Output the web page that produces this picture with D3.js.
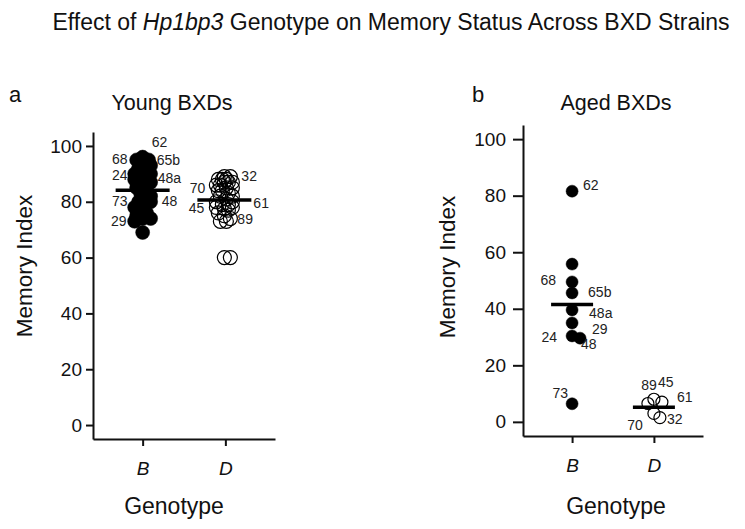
<!DOCTYPE html>
<html><head><meta charset="utf-8">
<script src="https://cdn.jsdelivr.net/npm/d3@7"></script>
<style>
html,body{margin:0;padding:0;background:#fff;}
svg text{font-family:"Liberation Sans",Arial,sans-serif;}
</style></head>
<body>
<svg id="chart" width="745" height="529"></svg>
<script>
// ---------- DATA ----------
const genotypes = ["B", "D"];
const yTicks = [0, 20, 40, 60, 80, 100];

// Young BXDs, B genotype (first values are the labelled strains)
const youngBStrains = ["62", "68", "65b", "24", "48a", "73", "48", "29"];
const youngBValues = [96, 95, 94, 90, 89, 80, 80, 74,
  95, 93, 92, 91, 90, 89, 88, 87, 86, 85, 84, 83, 82, 81, 79, 78, 77, 76, 75, 74, 73, 69];

// Young BXDs, D genotype
const youngDStrains = ["32", "70", "45", "61", "89"];
const youngDValues = [89, 84, 77.5, 79, 73,
  89, 88, 88, 88, 87, 87, 87, 86, 86, 85, 85, 84, 83, 82, 82, 81, 80, 80, 79, 78, 78, 77, 76, 75, 74, 73, 60, 60];

// Aged BXDs, B genotype
const agedBStrains = ["62", "68", "65b", "48a", "29", "24", "48", "73"];
const agedBValues = [81.6, 49.5, 45.6, 39.6, 35, 30.4, 29.6, 6.4, 55.8];

// Aged BXDs, D genotype
const agedDStrains = ["89", "45", "61", "70", "32"];
const agedDValues = [6.5, 8, 7, 3, 1.5];

// ---------- LAYOUT (code, not data) ----------
const svg = d3.select("#chart");
const FONT = '"Liberation Sans",Arial,sans-serif';

svg.append("text").attr("x", 391).attr("y", 30).attr("text-anchor", "middle")
  .attr("font-size", 23).attr("fill", "#111")
  .call(t => {
    t.append("tspan").text("Effect of ");
    t.append("tspan").attr("font-style", "italic").text("Hp1bp3");
    t.append("tspan").text(" Genotype on Memory Status Across BXD Strains");
  });

// label layout: side (l = right-aligned, r = left-aligned), dx from group centre, dy from point y
const labelLayout = {
  young: {
    B: {"62": ["r", 9, -10], "68": ["l", -15, 4], "65b": ["r", 14, 2], "24": ["l", -15, 6],
        "48a": ["r", 15, 6], "73": ["l", -15, 4], "48": ["r", 19, 4], "29": ["l", -16, 7]},
    D: {"32": ["r", 17, 4], "70": ["l", -19, 2], "45": ["l", -20, 4], "61": ["r", 29, 3], "89": ["r", 13, 3]}
  },
  aged: {
    B: {"62": ["r", 11, -1], "68": ["l", -16, 3], "65b": ["r", 16, 4], "48a": ["r", 17, 8],
        "29": ["r", 20, 11], "24": ["l", -15, 6], "48": ["r", 9, 11], "73": ["l", -4, -6]},
    D: {"89": ["l", 3, -13], "45": ["r", 4, -12], "61": ["r", 23, 0], "70": ["l", -11, 17], "32": ["r", 13, 6]}
  }
};

function dodge(values, y, r, maxOff) {
  const idx = values.map((v, i) => i).sort((a, b) => values[b] - values[a]);
  const placed = [];
  const off = new Array(values.length).fill(0);
  const cands = [0];
  for (let k = 2; k <= maxOff; k += 2) { cands.push(k, -k); }
  idx.forEach(i => {
    const py = y(values[i]);
    let best = 0, bestD = -1;
    for (const c of cands) {
      let md = Infinity;
      placed.forEach(p => { md = Math.min(md, Math.hypot(p[0] - c, p[1] - py)); });
      if (md >= r) { best = c; break; }
      if (md > bestD) { bestD = md; best = c; }
    }
    off[i] = best;
    placed.push([best, py]);
  });
  return off;
}

function panel(cfg) {
  const g = svg.append("g");
  const y = d3.scaleLinear().domain([-5, 105]).range([cfg.bottom, cfg.top]);
  const x = d3.scalePoint().domain(genotypes).range([cfg.left, cfg.right]).padding(0.6);

  const ya = g.append("g").attr("transform", `translate(${cfg.left},0)`)
    .call(d3.axisLeft(y).tickValues(yTicks).tickSize(cfg.tick).tickSizeOuter(0).tickPadding(cfg.tickPad));
  const xa = g.append("g").attr("transform", `translate(0,${cfg.bottom})`)
    .call(d3.axisBottom(x).tickSize(7).tickSizeOuter(0).tickPadding(16));
  [ya, xa].forEach(a => {
    a.select(".domain").attr("stroke", "#111").attr("stroke-width", 2);
    a.selectAll(".tick line").attr("stroke", "#111").attr("stroke-width", 2);
    a.selectAll(".tick text").attr("fill", "#111").attr("font-family", FONT);
  });
  ya.selectAll(".tick text").attr("font-size", 19);
  xa.selectAll(".tick text").attr("font-size", 19).attr("font-style", "italic");

  // titles
  svg.append("text").attr("x", cfg.letterX).attr("y", 102).attr("font-size", 22).attr("fill", "#111").text(cfg.letter);
  svg.append("text").attr("x", cfg.titleX).attr("y", 110).attr("text-anchor", "middle")
    .attr("font-size", 21.5).attr("fill", "#111").text(cfg.title);
  svg.append("text").attr("transform", `translate(${cfg.yLabX},${cfg.yLabY}) rotate(-90)`)
    .attr("text-anchor", "middle").attr("font-size", 22.5).attr("fill", "#111").text("Memory Index");
  svg.append("text").attr("x", cfg.genoX).attr("y", 514).attr("text-anchor", "middle")
    .attr("font-size", 23).attr("fill", "#111").text("Genotype");

  cfg.groups.forEach(grp => {
    const cx = x(grp.geno) + (grp.shift || 0);
    const offs = dodge(grp.values, y, cfg.minDist, cfg.maxOff);
    g.append("g").selectAll("circle").data(grp.values).join("circle")
      .attr("cx", (d, i) => cx + offs[i])
      .attr("cy", d => y(d))
      .attr("r", cfg.r)
      .attr("fill", grp.filled ? "#000" : "none")
      .attr("stroke", "#000")
      .attr("stroke-width", grp.filled ? 0.5 : 1.2);
    const m = d3.mean(grp.values);
    g.append("line").attr("x1", cx - cfg.meanW / 2).attr("x2", cx + cfg.meanW / 2)
      .attr("y1", y(m)).attr("y2", y(m)).attr("stroke", "#000").attr("stroke-width", 3.5);
    const lay = labelLayout[cfg.key][grp.geno];
    grp.strains.forEach((s, i) => {
      const L = lay[s];
      g.append("text")
        .attr("x", cx + L[1]).attr("y", y(grp.values[i]) + L[2])
        .attr("text-anchor", L[0] === "l" ? "end" : "start")
        .attr("font-size", 14).attr("fill", "#222").text(s);
    });
  });
}

panel({
  key: "young", left: 93, right: 275, top: 132, bottom: 439, r: 7, minDist: 6, maxOff: 8, meanW: 54,
  tick: 7, tickPad: 4,
  letter: "a", letterX: 9, title: "Young BXDs", titleX: 172, yLabX: 32, yLabY: 266, genoX: 174,
  groups: [
    {geno: "B", values: youngBValues, strains: youngBStrains, filled: true},
    {geno: "D", values: youngDValues, strains: youngDStrains, filled: false, shift: -1}
  ]
});
panel({
  key: "aged", left: 523, right: 703, top: 125, bottom: 436, r: 6, minDist: 7, maxOff: 8, meanW: 42,
  tick: 10, tickPad: 7,
  letter: "b", letterX: 472, title: "Aged BXDs", titleX: 616, yLabX: 455, yLabY: 267, genoX: 616,
  groups: [
    {geno: "B", values: agedBValues, strains: agedBStrains, filled: true},
    {geno: "D", values: agedDValues, strains: agedDStrains, filled: false}
  ]
});
</script>
</body></html>
